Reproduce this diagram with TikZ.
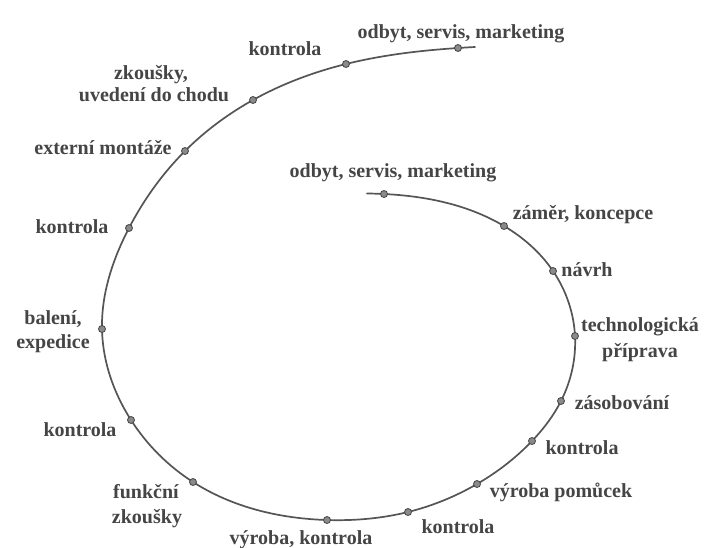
\documentclass[tikz,border=0pt]{standalone}
\usepackage{fontspec}
\usetikzlibrary{hobby}
\setmainfont{Liberation Serif}
\definecolor{ink}{HTML}{454545}
\definecolor{wire}{HTML}{555555}
\definecolor{dotfill}{HTML}{8A8A8A}
\begin{document}
\begin{tikzpicture}[x=1pt,y=-1pt,
  lbl/.style={font=\bfseries\fontsize{20}{22}\selectfont, text=ink, inner sep=0pt, anchor=base},
  dot/.style={circle, draw=ink, fill=dotfill, inner sep=0pt, minimum size=7pt, line width=0.8pt},
  spiral/.style={draw=wire, line width=1.7pt, line cap=round}]
\useasboundingbox[fill=white] (0,0) rectangle (711,547);

% points along the spiral
\coordinate (s0) at (367,193.5);
\coordinate (p1) at (384,194);
\coordinate (p2) at (504,226);
\coordinate (p3) at (553,271);
\coordinate (p4) at (575,336);
\coordinate (p5) at (561,401);
\coordinate (p6) at (532,441);
\coordinate (p7) at (477,484);
\coordinate (p8) at (408,512);
\coordinate (p9) at (327,520);
\coordinate (p10) at (193,482);
\coordinate (p11) at (131,420);
\coordinate (p12) at (102,329);
\coordinate (p13) at (129,228);
\coordinate (p14) at (185,151);
\coordinate (p15) at (253,100);
\coordinate (p16) at (346,64);
\coordinate (p17) at (458,48);
\coordinate (e0) at (475,47);

\draw[spiral, use Hobby shortcut] (s0) .. (p1) .. (p2) .. (p3) .. (p4) .. (p5) .. (p6) .. (p7) .. (p8) .. (p9) .. (p10) .. (p11) .. (p12) .. (p13) .. (p14) .. (p15) .. (p16) .. (p17) .. (e0);

\foreach \i in {1,...,17} { \node[dot] (d\i) at (p\i) {}; }

% labels
\node[lbl] (t1) at (393,177) {odbyt, servis, marketing};
\node[lbl] (t2) at (583,219) {záměr, koncepce};
\node[lbl] (t3) at (587,276) {návrh};
\node[lbl] (t4a) at (640,331) {technologická};
\node[lbl] (t4b) at (640,357) {příprava};
\node[lbl] (t5) at (622,409) {zásobování};
\node[lbl] (t6) at (582,454) {kontrola};
\node[lbl] (t7) at (561,497) {výroba pomůcek};
\node[lbl] (t8) at (458,533) {kontrola};
\node[lbl] (t9) at (301,544) {výroba, kontrola};
\node[lbl] (t10a) at (146,498) {funkční};
\node[lbl] (t10b) at (147,523) {zkoušky};
\node[lbl] (t11) at (80,436) {kontrola};
\node[lbl] (t12a) at (53,324) {balení,};
\node[lbl] (t12b) at (53,348) {expedice};
\node[lbl] (t13) at (72,233) {kontrola};
\node[lbl] (t14) at (103,154) {externí montáže};
\node[lbl] (t15a) at (151,79) {zkoušky,};
\node[lbl] (t15b) at (154,101) {uvedení do chodu};
\node[lbl] (t16) at (285,55) {kontrola};
\node[lbl] (t17) at (461,38) {odbyt, servis, marketing};
\end{tikzpicture}
\end{document}
